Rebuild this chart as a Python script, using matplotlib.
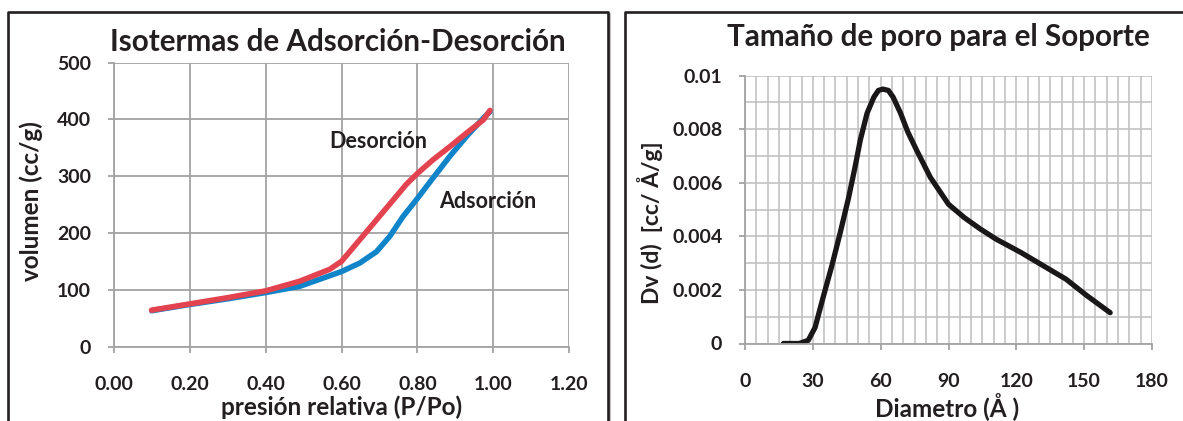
import numpy as np
import matplotlib.pyplot as plt
from matplotlib.lines import Line2D
from matplotlib.ticker import MultipleLocator

plt.rcParams['font.family'] = ['Lato', 'DejaVu Sans']
plt.rcParams['font.weight'] = 'bold'

# isotermas (P/Po, cc/g)
p_ads = [0.10, 0.20, 0.30, 0.40, 0.49, 0.60, 0.648, 0.692, 0.727, 0.762, 0.80, 0.841, 0.885, 0.929, 0.973, 0.991]
v_ads = [63, 74, 84, 95, 106, 132, 147, 167, 194, 229, 261, 297, 335, 370, 402, 414]
p_des = [0.10, 0.20, 0.30, 0.40, 0.49, 0.569, 0.60, 0.648, 0.692, 0.736, 0.771, 0.80, 0.841, 0.885, 0.929, 0.973, 0.991]
v_des = [64, 75, 86, 98, 115, 136, 150, 188, 223, 258, 286, 305, 329, 352, 376, 399, 416]

# distribucion de tamaño de poro
diam = [17, 24, 28, 31, 34.6, 38.4, 42, 45.7, 48.7, 51, 54, 57, 59, 61, 63.4, 65.5, 68.8, 72, 76, 82, 86,
        90, 97, 104, 111, 122, 132, 142, 151, 161.5]
dv = [0, 0, 0.00012, 0.0006, 0.00174, 0.0029, 0.0041, 0.0054, 0.0066, 0.0076, 0.0086, 0.0092, 0.00945,
      0.0095, 0.00945, 0.0092, 0.0086, 0.0079, 0.0072, 0.0062, 0.0057, 0.0052, 0.0047, 0.00428, 0.0039,
      0.0034, 0.0029, 0.0024, 0.0018, 0.00115]

W, H = 1183, 421
fig = plt.figure(figsize=(W / 100, H / 100), dpi=100)


def px_axes(x0, y0, x1, y1):
	return fig.add_axes([x0 / W, 1 - y1 / H, (x1 - x0) / W, (y1 - y0) / H])


def frame_line(xs, ys, color='#231f20', lw=1.9):
	fig.add_artist(Line2D([x / W for x in xs], [1 - y / H for y in ys], color=color, lw=lw))


def px_text(x, y, s, **kw):
	fig.text(x / W, 1 - y / H, s, ha='center', va='center', color=txt_c, fontweight='bold', **kw)


txt_c = '#231f20'
grid_l = '#a3a3a3'
grid_r = '#c2c2c4'

# bordes de los paneles
frame_line([610, 610], [14, H + 5], color='#b0b0b0', lw=1.2)
frame_line([8, 8, 608, 608], [H + 5, 12, 12, H + 5])
frame_line([624.5, 624.5, W + 5], [H + 5, 12, 12])

# ---- isotermas
ax1 = px_axes(113.6, 62.7, 569.4, 346.5)
ax1.plot(p_ads, v_ads, color='#0f84c9', lw=4.0, solid_capstyle='round', solid_joinstyle='round')
ax1.plot(p_des, v_des, color='#e2434f', lw=4.0, solid_capstyle='round', solid_joinstyle='round')
ax1.set_xlim(0, 1.2)
ax1.set_ylim(0, 500)
ax1.set_xticks(np.arange(0, 1.21, 0.2))
ax1.set_yticks(np.arange(0, 501, 100))
ax1.set_xticklabels(['%.2f' % t for t in np.arange(0, 1.21, 0.2)])
ax1.grid(True, color=grid_l, lw=1.3)
ax1.set_axisbelow(True)
ax1.text(0.697, 361, 'Desorción', ha='center', va='center', fontsize=15.5, color=txt_c)
ax1.text(0.986, 255, 'Adsorción', ha='center', va='center', fontsize=15.5, color=txt_c)
px_text(338, 42, 'Isotermas de Adsorción-Desorción', fontsize=21.3)
px_text(341.5, 407, 'presión relativa (P/Po)', fontsize=17.5)
px_text(31, 201, 'volumen (cc/g)', fontsize=17.5, rotation=90)

# ---- tamaño de poro
ax2 = px_axes(745, 75.7, 1152, 343.5)
ax2.plot(diam, dv, color='#1a1718', lw=3.8, solid_capstyle='round', solid_joinstyle='round')
ax2.set_xlim(0, 180)
ax2.set_ylim(0, 0.01)
ax2.xaxis.set_major_locator(MultipleLocator(30))
ax2.xaxis.set_minor_locator(MultipleLocator(5))
ax2.set_yticks([0, 0.002, 0.004, 0.006, 0.008, 0.01])
ax2.set_yticklabels(['0', '0.002', '0.004', '0.006', '0.008', '0.01'])
ax2.yaxis.set_minor_locator(MultipleLocator(0.001))
ax2.grid(True, which='both', color=grid_r, lw=1.2)
ax2.tick_params(which='minor', length=0)
ax2.set_axisbelow(True)
px_text(938, 37, 'Tamaño de poro para el Soporte', fontsize=21.3)
px_text(947, 407, 'Diametro (Å )', fontsize=17.5)
px_text(650, 223, 'Dv (d)  [cc/ Å/g]', fontsize=16.5, rotation=90)

for ax in (ax1, ax2):
	for s in ax.spines.values():
		s.set_visible(False)
	for side in ('left', 'bottom'):
		ax.spines[side].set_visible(True)
		ax.spines[side].set_color(grid_l)
		ax.spines[side].set_linewidth(1.3)
	ax.tick_params(which='major', color=grid_l, width=1.3, length=4.3, labelsize=14, labelcolor=txt_c)
	ax.tick_params(axis='x', pad=17)
	ax.tick_params(axis='y', pad=12)

fig.savefig('out.png', dpi=100)
